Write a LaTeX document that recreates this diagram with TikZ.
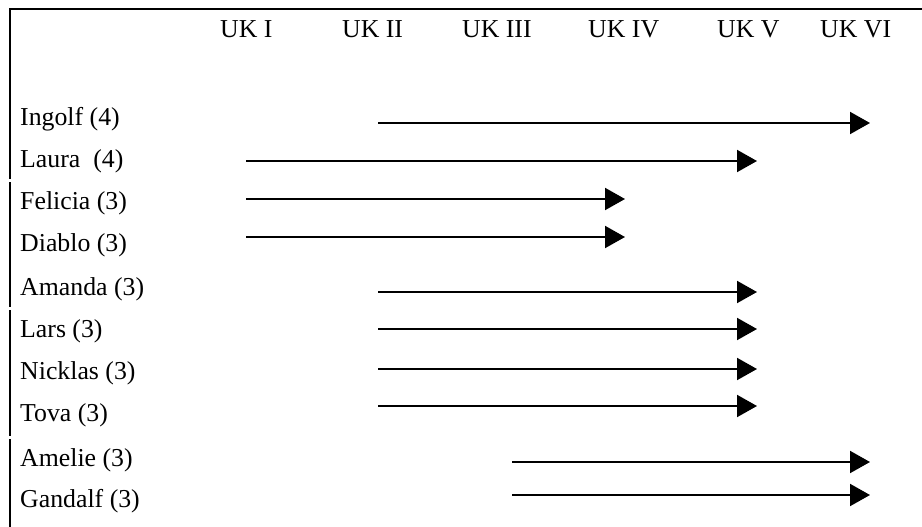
\documentclass[tikz,border=0pt]{standalone}
\usepackage{fontspec}
\setmainfont{Liberation Serif}
\usetikzlibrary{arrows.meta}

\begin{document}
\begin{tikzpicture}[x=1pt,y=-1pt,
every node/.style={font=\fontsize{25.8}{30}\selectfont, inner sep=0pt, anchor=base west},
span/.style={line width=2pt, -{Triangle[length=20pt,width=22pt]}},
frame/.style={line width=2.5pt}]
\useasboundingbox (0,0) rectangle (922,527);
% table frame
\draw[frame] (922,9) -- (10,9) -- (10,179);
\draw[frame] (10,182) -- (10,307);
\draw[frame] (10,310) -- (10,436);
\draw[frame] (10,439) -- (10,527);
% header
\node (uk1) at (220,38) {UK I};
\node (uk2) at (342,38) {UK II};
\node (uk3) at (462,38) {UK III};
\node (uk4) at (588,38) {UK IV};
\node (uk5) at (717,38) {UK V};
\node (uk6) at (820,38) {UK VI};
% names
\node (ingolf) at (20,125) {Ingolf (4)};
\node (laura) at (20,167) {Laura~~(4)};
\node (felicia) at (20,209) {Felicia (3)};
\node (diablo) at (20,251) {Diablo (3)};
\node (amanda) at (20,295) {Amanda (3)};
\node (lars) at (20,337) {Lars (3)};
\node (nicklas) at (20,379) {Nicklas (3)};
\node (tova) at (20,421) {Tova (3)};
\node (amelie) at (20,466) {Amelie (3)};
\node (gandalf) at (20,507) {Gandalf (3)};
% spans
\coordinate (ingolf-a) at (378,123);  \coordinate (ingolf-b) at (870,123);
\coordinate (laura-a) at (246,161);   \coordinate (laura-b) at (757,161);
\coordinate (felicia-a) at (246,199); \coordinate (felicia-b) at (625,199);
\coordinate (diablo-a) at (246,237);  \coordinate (diablo-b) at (625,237);
\coordinate (amanda-a) at (378,292);  \coordinate (amanda-b) at (757,292);
\coordinate (lars-a) at (378,329);    \coordinate (lars-b) at (757,329);
\coordinate (nicklas-a) at (378,369); \coordinate (nicklas-b) at (757,369);
\coordinate (tova-a) at (378,406);    \coordinate (tova-b) at (757,406);
\coordinate (amelie-a) at (512,462);  \coordinate (amelie-b) at (870,462);
\coordinate (gandalf-a) at (512,495); \coordinate (gandalf-b) at (870,495);
\draw[span] (ingolf-a) -- (ingolf-b);
\draw[span] (laura-a) -- (laura-b);
\draw[span] (felicia-a) -- (felicia-b);
\draw[span] (diablo-a) -- (diablo-b);
\draw[span] (amanda-a) -- (amanda-b);
\draw[span] (lars-a) -- (lars-b);
\draw[span] (nicklas-a) -- (nicklas-b);
\draw[span] (tova-a) -- (tova-b);
\draw[span] (amelie-a) -- (amelie-b);
\draw[span] (gandalf-a) -- (gandalf-b);
\end{tikzpicture}
\end{document}
